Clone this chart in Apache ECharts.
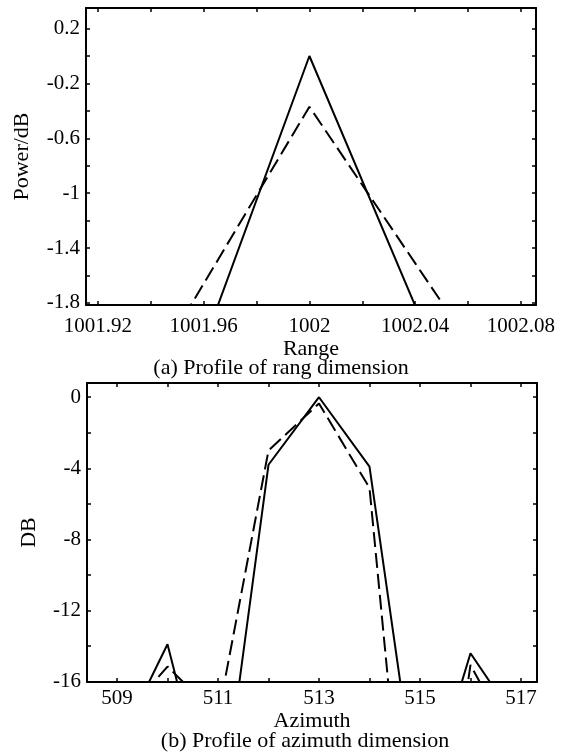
<!DOCTYPE html>
<html>
<head>
<meta charset="utf-8">
<script src="https://cdn.jsdelivr.net/npm/echarts@6/dist/echarts.min.js"></script>
<style>
  html, body { margin: 0; padding: 0; background: #fff; }
  #chart { width: 568px; height: 753px; }
</style>
</head>
<body>
<div id="chart"></div>
<script>
// ---------- Data ----------
// (a) Range profile
const rangeX       = [1001.92, 1001.96, 1002, 1002.04, 1002.08];
const rangeSolid   = [-4.2, -2.1, 0, -1.82, -3.6];
const rangeDashed  = [-2.95, -1.66, -0.37, -1.51, -2.65];
// (b) Azimuth profile
const azimuthX      = [509, 510, 511, 512, 513, 514, 515, 516, 517];
const azimuthSolid  = [-19.7, -13.9, -25, -3.8, 0, -3.9, -23.8, -14.4, -18.6];
const azimuthDashed = [-18.4, -15.15, -17.95, -3.0, -0.35, -5.1, -34.6, -15.06, -20.3];

// Tick labels and tick positions
const rangeLabels  = [1001.92, 1001.96, 1002, 1002.04, 1002.08];
const rangeTicks   = [1001.92, 1001.94, 1001.96, 1001.98, 1002, 1002.02, 1002.04, 1002.06, 1002.08];
const powerLabels  = [0.2, -0.2, -0.6, -1, -1.4, -1.8];
const powerTicks   = [0.2, 0, -0.2, -0.4, -0.6, -0.8, -1, -1.2, -1.4, -1.6, -1.8];
const azLabels     = [509, 511, 513, 515, 517];
const azTicks      = [509, 510, 511, 512, 513, 514, 515, 516, 517];
const dbLabels     = [0, -4, -8, -12, -16];
const dbTicks      = [0, -2, -4, -6, -8, -10, -12, -14, -16];

// Titles
const captionA = '(a) Profile of rang dimension';
const captionB = '(b) Profile of azimuth dimension';

// ---------- Styling ----------
const FONT = 'Liberation Serif';
const FS = 22;      // names and captions
const FS_TICK = 21; // tick labels
const BLACK = '#000';

function pair(xs, ys) { return xs.map((x, i) => [x, ys[i]]); }
function fmt(v) { return String(+(+v).toFixed(4)); }

function axisBase(opts) {
  return Object.assign({
    type: 'value',
    splitLine: { show: false },
    axisLine: { show: true, onZero: false, lineStyle: { color: BLACK, width: 2 } },
    axisTick: { show: true, inside: true, length: 4, lineStyle: { color: BLACK, width: 1.5 } },
    axisLabel: { show: false },
  }, opts);
}

function mainX(grid, min, max, labels, ticks, name, nameGap, margin) {
  return axisBase({
    gridIndex: grid, position: 'bottom', min, max,
    name, nameLocation: 'middle', nameGap,
    nameTextStyle: { fontFamily: FONT, fontSize: FS, color: BLACK },
    axisTick: { show: true, inside: true, length: 4, customValues: ticks, lineStyle: { color: BLACK, width: 1.5 } },
    axisLabel: { show: true, customValues: labels, margin, formatter: fmt,
                 fontFamily: FONT, fontSize: FS_TICK, color: BLACK },
  });
}
function topX(grid, min, max, ticks) {
  return axisBase({
    gridIndex: grid, position: 'top', min, max,
    axisTick: { show: true, inside: true, length: 4, customValues: ticks, lineStyle: { color: BLACK, width: 1.5 } },
  });
}
function mainY(grid, min, max, labels, ticks, name, nameGap) {
  return axisBase({
    gridIndex: grid, position: 'left', min, max,
    name, nameLocation: 'middle', nameGap,
    nameTextStyle: { fontFamily: FONT, fontSize: FS, color: BLACK },
    axisTick: { show: true, inside: true, length: 4, customValues: ticks, lineStyle: { color: BLACK, width: 1.5 } },
    axisLabel: { show: true, customValues: labels, margin: 6, formatter: fmt,
                 fontFamily: FONT, fontSize: FS_TICK, color: BLACK },
  });
}
function rightY(grid, min, max, ticks) {
  return axisBase({
    gridIndex: grid, position: 'right', min, max,
    axisTick: { show: true, inside: true, length: 4, customValues: ticks, lineStyle: { color: BLACK, width: 1.5 } },
  });
}

const rMin = 1001.9155, rMax = 1002.0857, pMin = -1.815, pMax = 0.35;
const aMin = 508.406, aMax = 517.317, dMin = -16.02, dMax = 0.8;

const option = {
  animation: false,
  backgroundColor: '#fff',
  grid: [
    { left: 86, top: 8, width: 450, height: 297 },
    { left: 87, top: 383, width: 450, height: 299 },
  ],
  xAxis: [
    mainX(0, rMin, rMax, rangeLabels, rangeTicks, 'Range', 30, 11),
    topX(0, rMin, rMax, rangeTicks),
    mainX(1, aMin, aMax, azLabels, azTicks, 'Azimuth', 24, 6),
    topX(1, aMin, aMax, azTicks),
  ],
  yAxis: [
    mainY(0, pMin, pMax, powerLabels, powerTicks, 'Power/dB', 53),
    rightY(0, pMin, pMax, powerTicks),
    mainY(1, dMin, dMax, dbLabels, dbTicks, 'DB', 47),
    rightY(1, dMin, dMax, dbTicks),
  ],
  graphic: [
    { type: 'text', x: 281, y: 368,
      style: { text: captionA, font: FS + 'px "' + FONT + '"', fill: BLACK, align: 'center', verticalAlign: 'middle' } },
    { type: 'text', x: 305, y: 741,
      style: { text: captionB, font: FS + 'px "' + FONT + '"', fill: BLACK, align: 'center', verticalAlign: 'middle' } },
  ],
  series: [
    { type: 'line', xAxisIndex: 0, yAxisIndex: 0, data: pair(rangeX, rangeSolid),
      showSymbol: false, clip: true, lineStyle: { color: BLACK, width: 2 } },
    { type: 'line', xAxisIndex: 0, yAxisIndex: 0, data: pair(rangeX, rangeDashed),
      showSymbol: false, clip: true, lineStyle: { color: BLACK, width: 2, type: [15, 6] } },
    { type: 'line', xAxisIndex: 2, yAxisIndex: 2, data: pair(azimuthX, azimuthSolid),
      showSymbol: false, clip: true, lineStyle: { color: BLACK, width: 2 } },
    { type: 'line', xAxisIndex: 2, yAxisIndex: 2, data: pair(azimuthX, azimuthDashed),
      showSymbol: false, clip: true, lineStyle: { color: BLACK, width: 2, type: [15, 6] } },
  ],
};

const chart = echarts.init(document.getElementById('chart'), null, { renderer: 'canvas' });
chart.setOption(option);
</script>
</body>
</html>
